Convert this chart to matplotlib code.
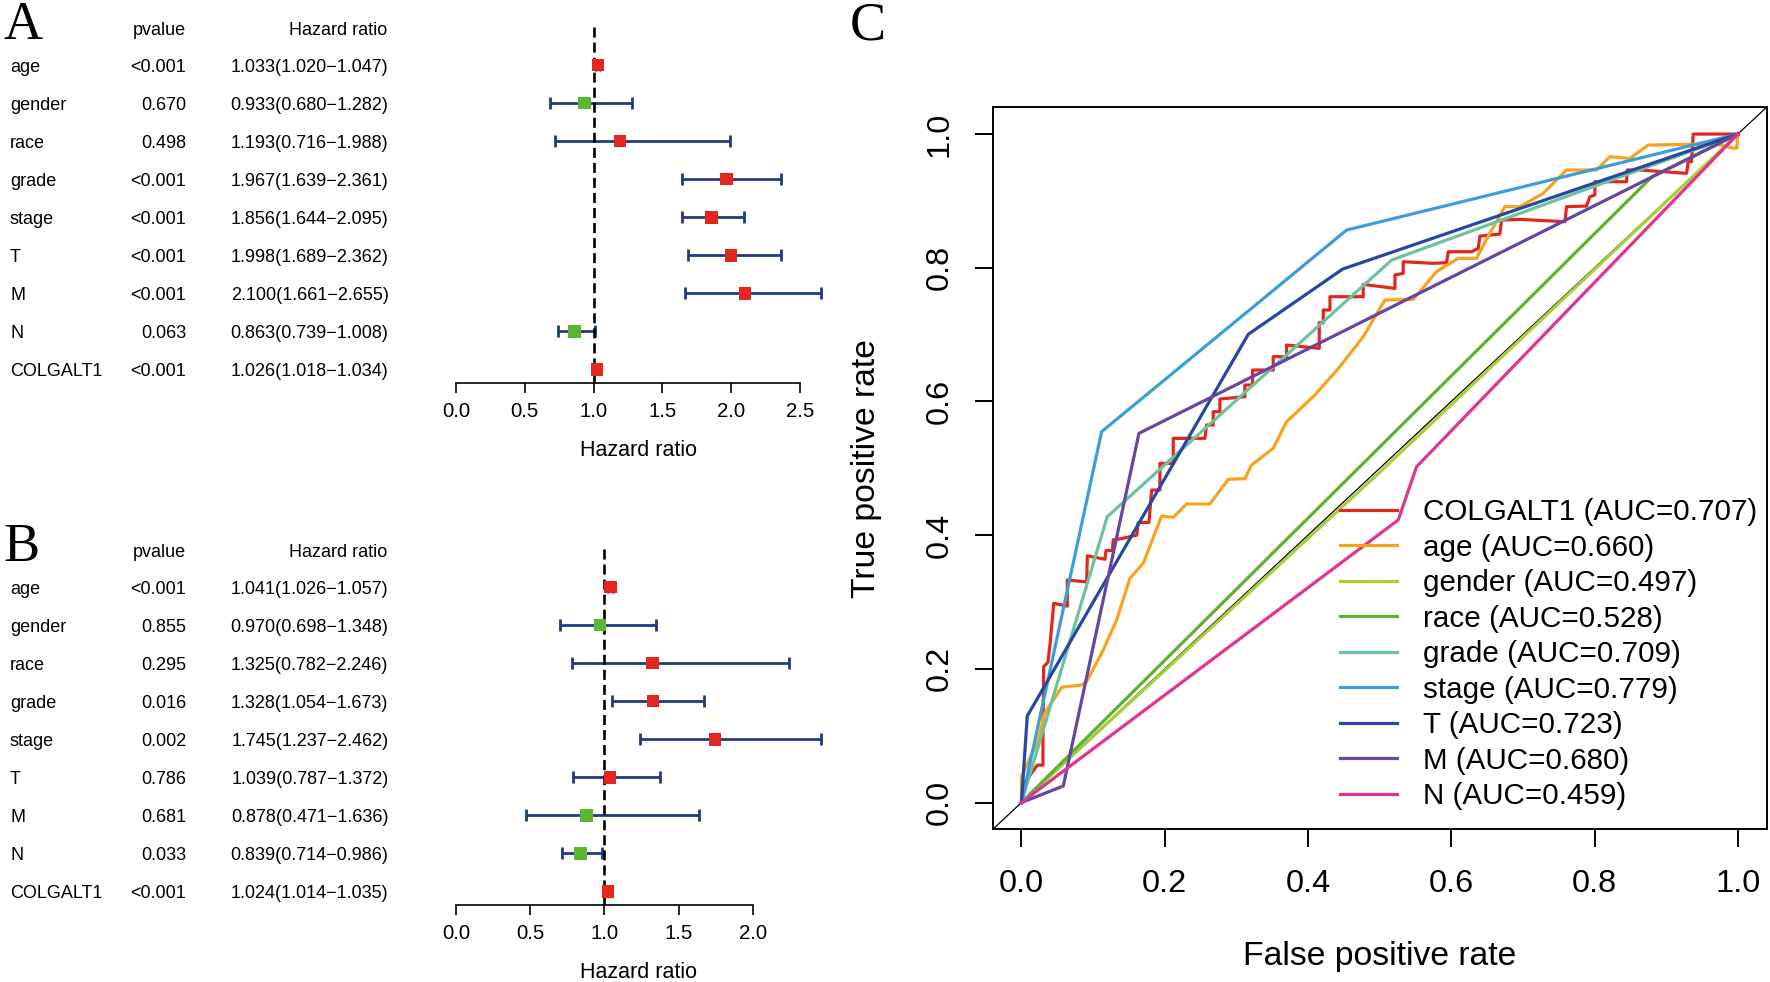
import matplotlib
matplotlib.use("Agg")
import matplotlib.pyplot as plt
import matplotlib.transforms as mtransforms

W, H = 1770, 982
SANS = ["Liberation Sans", "DejaVu Sans"]
SERIF = ["Liberation Serif", "DejaVu Serif"]
plt.rcParams["font.family"] = SANS

# ---------------- forest plot data ----------------
variables = ["age", "gender", "race", "grade", "stage", "T", "M", "N", "COLGALT1"]

uni_p = ["<0.001", "0.670", "0.498", "<0.001", "<0.001", "<0.001", "<0.001", "0.063", "<0.001"]
uni_hr = [1.033, 0.933, 1.193, 1.967, 1.856, 1.998, 2.100, 0.863, 1.026]
uni_low = [1.020, 0.680, 0.716, 1.639, 1.644, 1.689, 1.661, 0.739, 1.018]
uni_high = [1.047, 1.282, 1.988, 2.361, 2.095, 2.362, 2.655, 1.008, 1.034]
uni_ticks = [0.0, 0.5, 1.0, 1.5, 2.0, 2.5]

multi_p = ["<0.001", "0.855", "0.295", "0.016", "0.002", "0.786", "0.681", "0.033", "<0.001"]
multi_hr = [1.041, 0.970, 1.325, 1.328, 1.745, 1.039, 0.878, 0.839, 1.024]
multi_low = [1.026, 0.698, 0.782, 1.054, 1.237, 0.787, 0.471, 0.714, 1.014]
multi_high = [1.057, 1.348, 2.246, 1.673, 2.462, 1.372, 1.636, 0.986, 1.035]
multi_ticks = [0.0, 0.5, 1.0, 1.5, 2.0]

# ---------------- ROC data ----------------
roc_labels = ["COLGALT1 (AUC=0.707)", "age (AUC=0.660)", "gender (AUC=0.497)",
              "race (AUC=0.528)", "grade (AUC=0.709)", "stage (AUC=0.779)",
              "T (AUC=0.723)", "M (AUC=0.680)", "N (AUC=0.459)"]
roc_colors = ["#E3271F", "#F6A31E", "#A8CF38", "#5DB22F", "#6CC29A",
              "#3C9ED6", "#2648A0", "#6A45A0", "#E0358F"]

colgalt1_fpr = [0, 0.005, 0.022, 0.030, 0.030, 0.031, 0.037, 0.040, 0.0435, 0.045, 0.064, 0.064,
                0.091, 0.092, 0.1165, 0.118, 0.127, 0.128, 0.140, 0.161, 0.163, 0.178, 0.1817,
                0.1933, 0.1933, 0.2119, 0.2119, 0.2561, 0.2584, 0.2677, 0.2677, 0.277, 0.277,
                0.3119, 0.3119, 0.3226, 0.3226, 0.3515, 0.3515, 0.3701, 0.3701, 0.4157, 0.4157,
                0.4213, 0.4213, 0.4306, 0.4306, 0.4771, 0.4771, 0.5213, 0.5213, 0.5329, 0.5329,
                0.5748, 0.5934, 0.5957, 0.6283, 0.6376, 0.640, 0.6678, 0.6701, 0.6957, 0.7586,
                0.7609, 0.7888, 0.7934, 0.8004, 0.8004, 0.8446, 0.8455, 0.8632, 0.9283, 0.9307,
                0.9353, 0.9377, 0.9819, 1.0]
colgalt1_tpr = [0, 0.030, 0.056, 0.056, 0.094, 0.203, 0.210, 0.238, 0.279, 0.298, 0.294, 0.333,
                0.330, 0.369, 0.364, 0.377, 0.377, 0.393, 0.395, 0.400, 0.419, 0.419, 0.4675,
                0.4675, 0.5074, 0.5074, 0.5448, 0.5448, 0.5648, 0.5648, 0.5847, 0.5847, 0.6036,
                0.6071, 0.6246, 0.6246, 0.647, 0.647, 0.667, 0.667, 0.6844, 0.6794, 0.7178,
                0.7178, 0.7368, 0.7368, 0.7567, 0.7567, 0.7751, 0.7691, 0.7891, 0.7916, 0.809,
                0.8066, 0.8076, 0.824, 0.824, 0.829, 0.8474, 0.8504, 0.8714, 0.8724, 0.8689,
                0.8913, 0.8923, 0.9063, 0.9088, 0.9287, 0.9287, 0.9462, 0.9462, 0.9412, 0.9586,
                0.9586, 1.0, 1.0, 1.0]

age_fpr = [0, 0, 0.0235, 0.0323, 0.0561, 0.084, 0.0909, 0.1142, 0.1328, 0.1514, 0.170, 0.1956,
           0.2119, 0.2305, 0.2631, 0.2887, 0.3119, 0.3212, 0.3515, 0.3701, 0.4096, 0.4445,
           0.4771, 0.5073, 0.5469, 0.5794, 0.6097, 0.6353, 0.6515, 0.6748, 0.6957, 0.7283,
           0.7609, 0.8027, 0.8213, 0.8493, 0.8749, 0.9283, 0.970, 0.9934, 0.9985, 1.0]
age_tpr = [0, 0.0388, 0.0936, 0.1335, 0.1724, 0.1759, 0.1809, 0.2282, 0.2731, 0.3354, 0.3579,
           0.4287, 0.4267, 0.4466, 0.4466, 0.4835, 0.4845, 0.5049, 0.5299, 0.5697, 0.6096,
           0.652, 0.6969, 0.7517, 0.7527, 0.7941, 0.814, 0.814, 0.8474, 0.8913, 0.8913, 0.9113,
           0.9462, 0.9462, 0.9661, 0.9636, 0.9835, 0.9845, 0.985, 0.979, 0.979, 1.0]

gender_fpr = [0, 0.5, 1.0]
gender_tpr = [0, 0.494, 1.0]
race_fpr = [0, 0.88, 1.0]
race_tpr = [0, 0.936, 1.0]
grade_fpr = [0, 0.1198, 0.5167, 1.0]
grade_tpr = [0, 0.4276, 0.8115, 1.0]
stage_fpr = [0, 0.1119, 0.4539, 1.0]
stage_tpr = [0, 0.5548, 0.8564, 1.0]
t_fpr = [0, 0.0081, 0.3166, 0.4483, 1.0]
t_tpr = [0, 0.1295, 0.7004, 0.798, 1.0]
m_fpr = [0, 0.0584, 0.164, 1.0]
m_tpr = [0, 0.0248, 0.5523, 1.0]
n_fpr = [0, 0.5259, 0.5516, 1.0]
n_tpr = [0, 0.4227, 0.5024, 1.0]

roc_fpr = [colgalt1_fpr, age_fpr, gender_fpr, race_fpr, grade_fpr, stage_fpr, t_fpr, m_fpr, n_fpr]
roc_tpr = [colgalt1_tpr, age_tpr, gender_tpr, race_tpr, grade_tpr, stage_tpr, t_tpr, m_tpr, n_tpr]
roc_ticks = [0.0, 0.2, 0.4, 0.6, 0.8, 1.0]

RED = "#E3271F"
GREEN = "#5BB731"
NAVY = "#1F3A80"

fig = plt.figure(figsize=(W / 100, H / 100), dpi=100)


def px_axes(left, top, right, bottom):
    return fig.add_axes([left / W, 1 - bottom / H, (right - left) / W, (bottom - top) / H])


def forest(offset, hr, low, high, pv, ticks, letter):
    n = len(hr)
    ax = px_axes(456, 13.2 + offset, 821.3, 383.2 + offset)
    ax.set_xlim(0, max(high))
    ax.set_ylim(1 - 0.36, n + 1 + 0.36)
    ys = list(range(n, 0, -1))
    err = [[h - l for h, l in zip(hr, low)], [u - h for h, u in zip(hr, high)]]
    ax.errorbar(hr, ys, xerr=err, fmt="none", ecolor=NAVY, elinewidth=2.0,
                capsize=4.6, capthick=2.0, zorder=1, clip_on=False)
    ax.axvline(1.0, ymin=0, ymax=0.975, color="black", lw=1.9,
               linestyle=(0, (3.8, 1.9)), zorder=2)
    cols = [RED if h > 1 else GREEN for h in hr]
    ax.scatter(hr, ys, marker="s", s=9.1 ** 2, c=cols, zorder=3, clip_on=False, linewidths=0)
    for s in ["top", "right", "left"]:
        ax.spines[s].set_visible(False)
    ax.spines["bottom"].set_bounds(ticks[0], ticks[-1])
    ax.spines["bottom"].set_linewidth(1.2)
    ax.set_yticks([])
    ax.set_xticks(ticks)
    ax.set_xticklabels([f"{t:.1f}" for t in ticks])
    ax.tick_params(axis="x", direction="out", length=7.2, width=1.2, pad=6, labelsize=14.7)
    ax.patch.set_alpha(0)

    tr = mtransforms.blended_transform_factory(fig.transFigure, ax.transData)
    fs = 13
    dy = 0.065  # small downward shift of text relative to the row centre
    hy = n + 1 - 0.09
    ax.text(186 / W, hy, "pvalue", transform=tr, ha="right", va="center", fontsize=fs)
    ax.text(387 / W, hy, "Hazard ratio", transform=tr, ha="right", va="center", fontsize=fs)
    for y, v, p, h, l, u in zip(ys, variables, pv, hr, low, high):
        ax.text(10 / W, y - dy, v, transform=tr, ha="left", va="center", fontsize=fs)
        ax.text(186 / W, y - dy, p, transform=tr, ha="right", va="center", fontsize=fs)
        ax.text(388.5 / W, y - dy, f"{h:.3f}({l:.3f}\u2212{u:.3f})", transform=tr,
                ha="right", va="center", fontsize=fs)
    fig.text(638.5 / W, 1 - (450 + offset) / H, "Hazard ratio", ha="center", va="center",
             fontsize=15.5)
    fig.text(3 / W, 1 - (39 + offset) / H, letter, ha="left", va="baseline",
             fontsize=39, family=SERIF)


forest(0, uni_hr, uni_low, uni_high, uni_p, uni_ticks, "A")
forest(522, multi_hr, multi_low, multi_high, multi_p, multi_ticks, "B")

# ---------------- ROC panel ----------------
ax3 = px_axes(992.8, 107.3, 1766.5, 829.3)
ax3.set_xlim(-0.04, 1.04)
ax3.set_ylim(-0.04, 1.04)
ax3.axline((0, 0), (1, 1), color="black", lw=0.9, zorder=1)
for fpr, tpr, col, lab in zip(roc_fpr, roc_tpr, roc_colors, roc_labels):
    ax3.plot(fpr, tpr, color=col, lw=2.3, label=lab, zorder=2)
for s in ax3.spines.values():
    s.set_linewidth(1.4)
ax3.set_xticks(roc_ticks)
ax3.set_xticklabels([f"{t:.1f}" for t in roc_ticks])
ax3.set_yticks(roc_ticks)
ax3.set_yticklabels([f"{t:.1f}" for t in roc_ticks], rotation=90, va="center")
ax3.tick_params(direction="out", length=13, width=1.4, labelsize=23.4)
ax3.tick_params(axis="x", pad=15.5)
ax3.tick_params(axis="y", pad=14.5)
ax3.text(0.5, -0.1767, "False positive rate", transform=ax3.transAxes, ha="center",
         va="center", fontsize=24.3)
ax3.text(-0.1626, 0.5, "True positive rate", transform=ax3.transAxes, ha="center",
         va="center", rotation=90, fontsize=24.3)
leg = ax3.legend(loc="upper left", bbox_to_anchor=((1340 - 992.8) / 773.7, (829.3 - 498) / 722),
                 frameon=False, fontsize=21.3, handlelength=1.93, handletextpad=0.88,
                 labelspacing=0.255, borderpad=0, borderaxespad=0)
for line in leg.get_lines():
    line.set_linewidth(2.3)
fig.text(850 / W, 1 - 40 / H, "C", ha="left", va="baseline", fontsize=39, family=SERIF)

fig.savefig("out.png", dpi=100)
